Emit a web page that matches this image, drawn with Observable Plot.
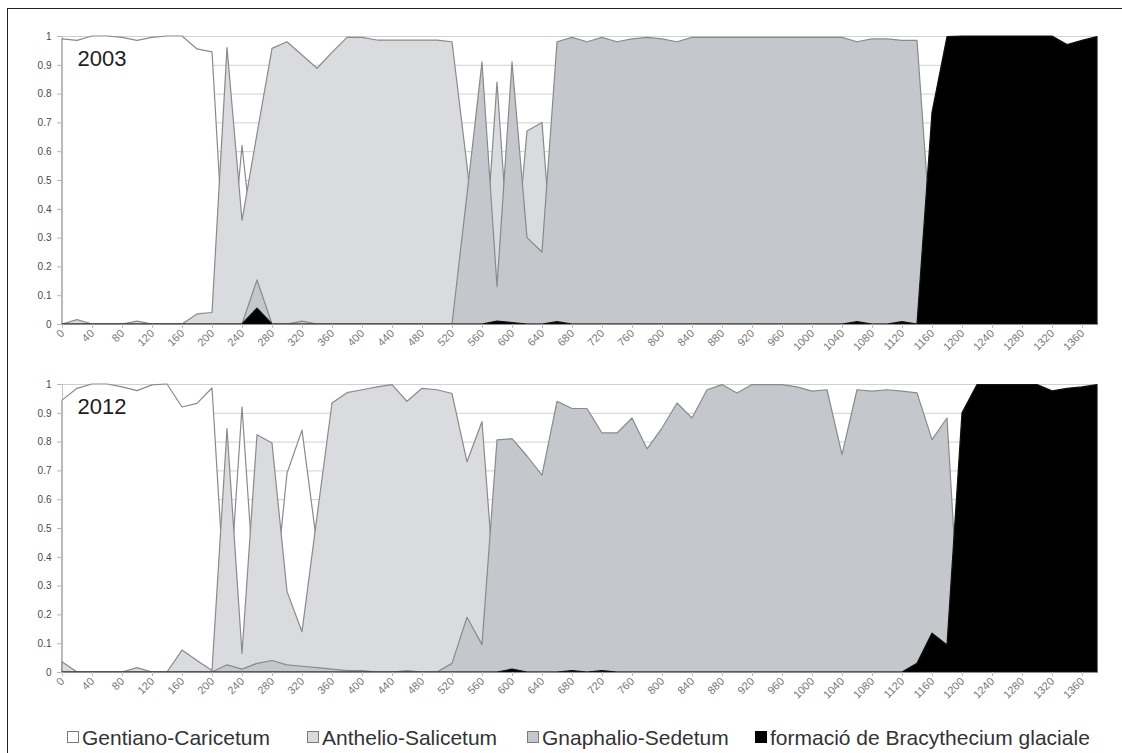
<!DOCTYPE html>
<html>
<head>
<meta charset="utf-8">
<script src="https://cdn.jsdelivr.net/npm/d3@7"></script>
<script src="https://cdn.jsdelivr.net/npm/@observablehq/plot@0.6"></script>
<style>
  html, body { margin: 0; padding: 0; background: #fff; }
  #wrap { position: relative; width: 1122px; height: 753px; overflow: hidden; font-family: "Liberation Sans", Arial, sans-serif; }
  #frame { position: absolute; left: 7px; top: 8px; width: 1130px; height: 760px; border-left: 1.5px solid #222; border-top: 1.5px solid #222; }
  .panel { position: absolute; left: 0; }
  .lg-sw { position: absolute; width: 10px; height: 10px; border: 1px solid #7a7a7a; }
  .lg-tx { position: absolute; font-size: 21px; color: #333; white-space: nowrap; line-height: 1; }
</style>
</head>
<body>
<div id="wrap">
  <div id="frame"></div>
  <div id="p1" class="panel" style="top:0px"></div>
  <div id="p2" class="panel" style="top:348px"></div>
  <div id="legend"></div>
</div>
<script>
// Distance categories (m) along the transect
const distances = [0,20,40,60,80,100,120,140,160,180,200,220,240,260,280,300,320,340,360,380,
  400,420,440,460,480,500,520,540,560,580,600,620,640,660,680,700,720,740,760,780,
  800,820,840,860,880,900,920,940,960,980,1000,1020,1040,1060,1080,1100,1120,1140,1160,1180,
  1200,1220,1240,1260,1280,1300,1320,1340,1360,1380];
const xTickLabels = [0,40,80,120,160,200,240,280,320,360,400,440,480,520,560,600,640,680,720,760,
  800,840,880,920,960,1000,1040,1080,1120,1160,1200,1240,1280,1320,1360];
const yTicks = [0,0.1,0.2,0.3,0.4,0.5,0.6,0.7,0.8,0.9,1];

const seriesNames = ["Gentiano-Caricetum","Anthelio-Salicetum","Gnaphalio-Sedetum","formació de Bracythecium glaciale"];
const seriesFill = ["#ffffff","#d9dbde","#c4c8cc","#000000"];
const seriesStroke = ["#8a8a8a","#8a8a8a","#8a8a8a","#111111"];

// ---- 2003 ----
const gentiano2003 = [0.99,0.985,1,1,0.995,0.985,0.995,1,1,0.955,0.945,0.04,0.62,0.14,0.04,0.02,0.05,0.11,0.055,0.005,
  0.005,0.01,0.01,0.01,0.01,0.01,0.01,0,0.01,0.02,0.01,0.03,0.05,0.01,0.005,0.005,0.005,0.005,0.005,0.005,
  0.005,0.005,0.005,0.005,0.005,0.005,0.005,0.005,0.005,0.005,0.005,0.005,0.005,0.005,0.005,0.005,0.005,0.005,0.02,0,
  0,0,0,0,0,0,0,0,0,0];
const anthelio2003 = [0,0.015,0,0,0,0.01,0,0,0,0.035,0.04,0.96,0.36,0.66,0.957,0.98,0.934,0.888,0.943,0.995,
  0.995,0.986,0.986,0.986,0.986,0.986,0.98,0.55,0.08,0.84,0.08,0.67,0.70,0.01,0,0,0,0,0,0,
  0,0,0,0,0,0,0,0,0,0,0,0,0,0,0,0,0,0,0,0,
  0,0,0,0,0,0,0,0,0,0];
const gnaphalio2003 = [0,0,0,0,0,0,0,0,0,0,0,0,0,0.153,0,0,0.01,0,0,0,
  0,0,0,0,0,0,0,0.45,0.91,0.13,0.91,0.30,0.25,0.98,0.995,0.98,0.995,0.98,0.99,0.995,
  0.99,0.98,0.995,0.995,0.995,0.995,0.995,0.995,0.995,0.995,0.995,0.995,0.995,0.98,0.99,0.99,0.985,0.985,0.25,0,
  0,0,0,0,0,0,0,0,0,0];
const bracythecium2003 = [0,0,0,0,0,0,0,0,0,0,0,0,0,0.055,0,0,0,0,0,0,
  0,0,0,0,0,0,0,0,0,0.01,0.005,0,0,0.008,0,0,0,0,0,0,
  0,0,0,0,0,0,0,0,0,0,0,0,0,0.008,0,0,0.008,0,0.735,0.998,
  1,1,1,1,1,1,1,0.97,0.985,0.998];

// ---- 2012 ----
const gentiano2012 = [0.944,0.985,1,1,0.99,0.977,0.997,1,0.92,0.933,0.986,0.13,0.92,0.15,0.17,0.69,0.84,0.44,0.05,0.02,
  0.015,0.01,0,0.05,0.01,0.015,0.02,0.06,0.03,0.02,0.02,0.02,0.02,0.01,0.01,0.01,0.01,0.01,0.01,0.01,
  0.01,0.01,0.01,0.01,0,0.01,0,0,0,0.01,0.01,0.01,0.01,0.01,0.01,0.01,0.01,0.01,0.01,0.01,
  0,0,0,0,0,0,0,0,0,0];
const anthelio2012 = [0.036,0,0,0,0,0.015,0,0,0.076,0.04,0.005,0.845,0.065,0.824,0.795,0.28,0.14,0.54,0.934,0.97,
  0.98,0.99,0.998,0.94,0.985,0.98,0.967,0.73,0.87,0.17,0.17,0.23,0.30,0.05,0.08,0.08,0.16,0.17,0.11,0.22,
  0.15,0.06,0.11,0.02,0,0.03,0,0,0,0.01,0.02,0.02,0.24,0.02,0.02,0.02,0.02,0.03,0.05,0.02,
  0,0,0,0,0,0,0,0,0,0];
const gnaphalio2012 = [0,0,0,0,0,0,0,0,0,0,0,0.025,0.01,0.03,0.04,0.025,0.02,0.015,0.01,0.005,
  0.005,0,0,0.005,0,0,0.03,0.19,0.095,0.806,0.81,0.75,0.684,0.94,0.915,0.915,0.83,0.83,0.882,0.775,
  0.847,0.934,0.882,0.98,0.998,0.969,0.998,0.998,0.998,0.99,0.975,0.98,0.755,0.98,0.975,0.98,0.975,0.969,0.807,0.882,
  0,0,0,0,0,0,0,0,0,0];
const bracythecium2012 = [0,0,0,0,0,0,0,0,0,0,0,0,0,0,0,0,0,0,0,0,
  0,0,0,0,0,0,0,0,0,0,0.01,0,0,0,0.005,0,0.005,0,0,0,
  0,0,0,0,0,0,0,0,0,0,0,0,0,0,0,0,0,0.03,0.135,0.094,
  0.9,0.998,0.998,0.998,0.998,0.998,0.976,0.985,0.99,0.998];

const fmtY = d => (d === 0 ? "0" : d === 1 ? "1" : d.toFixed(1));

function makePanel(year, valueLists) {
  const marks = [
    Plot.ruleY(yTicks.filter(d => d > 0), {stroke: "#d0d0d0", strokeWidth: 1}),
    Plot.ruleX([0], {stroke: "#c4c4c4"})
  ];
  valueLists.forEach((vals, si) => {
    const rows = vals.map((v, i) => ({x: distances[i], v, s: seriesNames[si]}));
    marks.push(Plot.areaY(rows, {
      x: "x", y: "v",
      fill: seriesFill[si], stroke: seriesStroke[si],
      strokeWidth: 1.2, strokeLinejoin: "round"
    }));
  });
  marks.push(Plot.ruleY([0], {stroke: "#8c8c8c", strokeWidth: 1}));
  marks.push(Plot.axisY({ticks: yTicks, tickFormat: fmtY, tickSize: 5, tickPadding: 6,
    stroke: "#b5b5b5", fill: "#4a4a4a", fontSize: 10, label: null}));
  marks.push(Plot.axisX({ticks: xTickLabels, tickFormat: d => String(d), tickRotate: -45,
    tickSize: 4, tickPadding: 3, stroke: "#bdbdbd", fill: "#777777", fontSize: 11, label: null}));
  marks.push(Plot.text([year], {text: d => d, frameAnchor: "top-left", dx: 15, dy: 14,
    fontSize: 22, fill: "#1e1e1e", textAnchor: "start"}));
  return Plot.plot({
    width: 1122, height: 360,
    marginLeft: 62, marginRight: 25, marginTop: 36, marginBottom: 36,
    style: {fontFamily: "'Liberation Sans', Arial, sans-serif", fontSize: "10px", background: "transparent"},
    x: {domain: [0, 1380], label: null},
    y: {domain: [0, 1], label: null},
    marks
  });
}

document.getElementById("p1").appendChild(
  makePanel("2003", [gentiano2003, anthelio2003, gnaphalio2003, bracythecium2003]));
document.getElementById("p2").appendChild(
  makePanel("2012", [gentiano2012, anthelio2012, gnaphalio2012, bracythecium2012]));

// Legend
const legendX = [67, 307, 527, 755];
const legend = document.getElementById("legend");
seriesNames.forEach((name, i) => {
  const sw = document.createElement("div");
  sw.className = "lg-sw";
  sw.style.left = legendX[i] + "px";
  sw.style.top = "731px";
  sw.style.background = seriesFill[i];
  if (i === 3) sw.style.borderColor = "#000";
  legend.appendChild(sw);
  const tx = document.createElement("div");
  tx.className = "lg-tx";
  tx.style.left = (legendX[i] + 15) + "px";
  tx.style.top = "727px";
  tx.textContent = name;
  legend.appendChild(tx);
});
</script>
</body>
</html>
